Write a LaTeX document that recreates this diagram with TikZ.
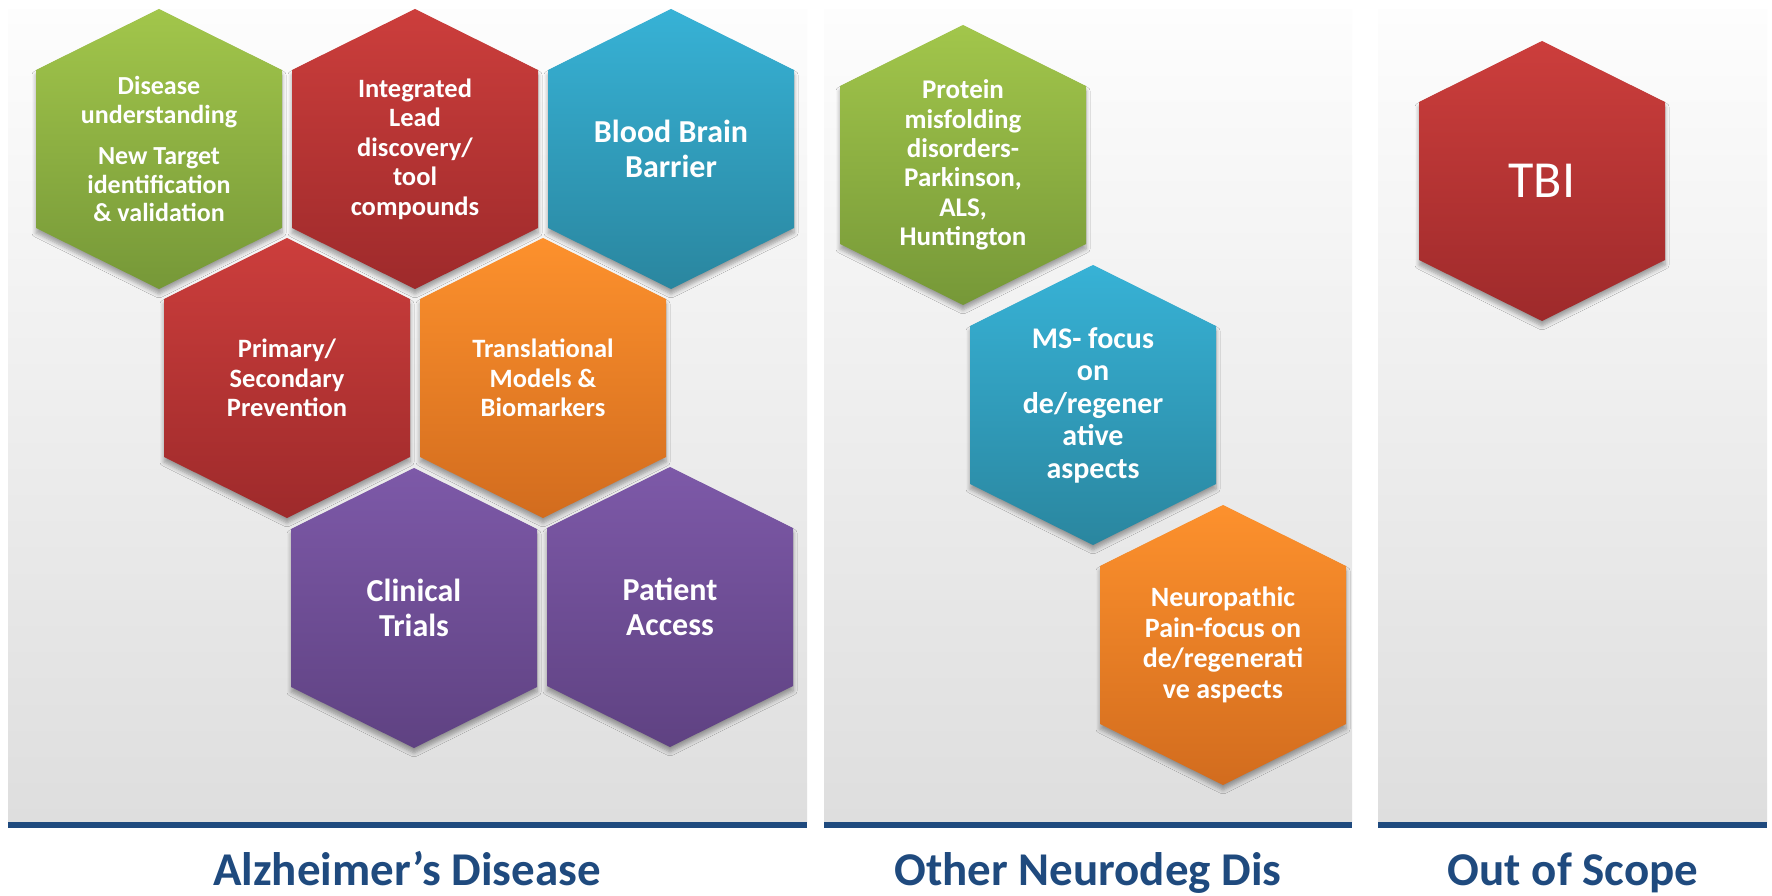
\documentclass[tikz,border=0pt]{standalone}
\usepackage{fontspec}
\setmainfont{Carlito}
\usetikzlibrary{shadows.blur}
\definecolor{greenT}{HTML}{A2C64B}\definecolor{greenB}{HTML}{769838}
\definecolor{redT}{HTML}{CC3E3C}\definecolor{redB}{HTML}{9E2A2B}
\definecolor{blueT}{HTML}{37B2D6}\definecolor{blueB}{HTML}{2A869F}
\definecolor{orangeT}{HTML}{FD912D}\definecolor{orangeB}{HTML}{D26C1E}
\definecolor{purpleT}{HTML}{7D59A8}\definecolor{purpleB}{HTML}{5F4282}
\definecolor{panelT}{HTML}{FDFDFD}\definecolor{panelB}{HTML}{DEDEDE}
\definecolor{barblue}{HTML}{1F4A7E}
\newcommand\hexcell[6]{%
  \path[hexshade, top color=#4T, bottom color=#4B]
    (#2,#3-140) -- (#2+123,#3-79) -- (#2+123,#3+79) -- (#2,#3+140)
    -- (#2-123,#3+79) -- (#2-123,#3-79) -- cycle;
  \node[hextext, font=#5] (#1) at (#2,#3) {#6};
}
\begin{document}
\begin{tikzpicture}[x=1pt,y=-1pt,
  hexshade/.style={blur shadow={shadow xshift=0pt, shadow yshift=-5pt,
      shadow opacity=35, shadow blur radius=4pt, shadow blur steps=6}},
  hextext/.style={text=white, align=center, inner sep=0pt},
  panel/.style={top color=panelT, bottom color=panelB},
  bar/.style={fill=barblue},
  catlabel/.style={anchor=base, text=barblue, inner sep=0pt,
      font=\fontsize{47}{50}\selectfont\bfseries}]
\useasboundingbox (0,0) rectangle (1772,896);
\fill[white] (0,0) rectangle (1772,896);
% panels
\path[panel] (8,10) rectangle (807,822);
\path[panel] (824,10) rectangle (1352,822);
\path[panel] (1378,10) rectangle (1767,822);
\fill[bar] (8,822) rectangle (807,828);
\fill[bar] (824,822) rectangle (1352,828);
\fill[bar] (1378,822) rectangle (1767,828);
% Alzheimer's hexagons
\hexcell{dis}{159}{149}{green}{\fontsize{26}{28.5}\selectfont\bfseries}{Disease\\understanding\\[13pt]New Target\\identification\\\& validation}
\hexcell{lead}{415}{149}{red}{\fontsize{26.5}{29.5}\selectfont\bfseries}{Integrated\\Lead\\discovery/\\tool\\compounds}
\hexcell{bbb}{671}{149}{blue}{\fontsize{32}{35}\selectfont\bfseries}{Blood Brain\\Barrier}
\hexcell{prev}{287}{378}{red}{\fontsize{26.5}{29.5}\selectfont\bfseries}{Primary/\\Secondary\\Prevention}
\hexcell{trans}{543}{378}{orange}{\fontsize{26.5}{29.5}\selectfont\bfseries}{Translational\\Models \&\\Biomarkers}
\hexcell{clin}{414}{608}{purple}{\fontsize{32}{35}\selectfont\bfseries}{Clinical\\Trials}
\hexcell{pat}{670}{607}{purple}{\fontsize{32}{35}\selectfont\bfseries}{Patient\\Access}
% Other neurodegenerative
\hexcell{prot}{963}{165}{green}{\fontsize{27}{29.3}\selectfont\bfseries}{Protein\\misfolding\\disorders-\\Parkinson,\\ALS,\\Huntington}
\hexcell{ms}{1093}{405}{blue}{\fontsize{30}{32.5}\selectfont\bfseries}{MS- focus\\on\\de/regener\\ative\\aspects}
\hexcell{neuro}{1223}{645}{orange}{\fontsize{28}{30.5}\selectfont\bfseries}{Neuropathic\\Pain-focus on\\de/regenerati\\ve aspects}
% Out of scope
\hexcell{tbi}{1542}{181}{red}{\fontsize{52}{56}\selectfont}{TBI}
% category labels
\node[catlabel] (lab1) at (407,885) {Alzheimer’s Disease};
\node[catlabel] (lab2) at (1088,885) {Other Neurodeg Dis};
\node[catlabel] (lab3) at (1573,885) {Out of Scope};
\end{tikzpicture}
\end{document}
